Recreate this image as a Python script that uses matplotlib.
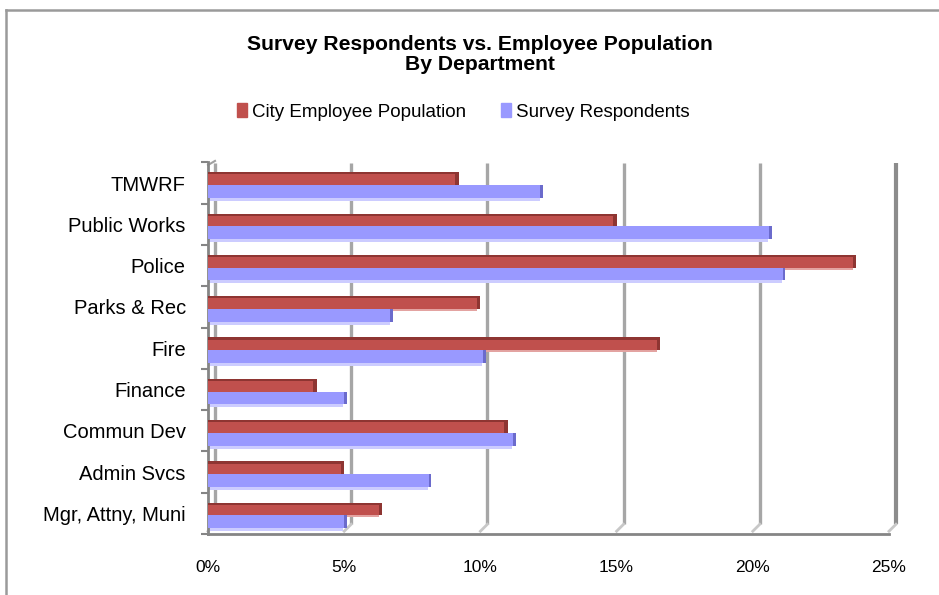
import matplotlib
matplotlib.use("Agg")
import matplotlib.pyplot as plt
import matplotlib.transforms as mtransforms
from matplotlib.patches import Rectangle, Patch

plt.rcParams['font.family'] = ['Liberation Sans', 'DejaVu Sans']

categories = ["Mgr, Attny, Muni", "Admin Svcs", "Commun Dev", "Finance", "Fire",
              "Parks & Rec", "Police", "Public Works", "TMWRF"]
city_population = [6.4, 5.0, 11.0, 4.0, 16.6, 10.0, 23.8, 15.0, 9.2]
survey_respondents = [5.1, 8.2, 11.3, 5.1, 10.2, 6.8, 21.2, 20.7, 12.3]
x_ticks = [0, 5, 10, 15, 20, 25]
x_tick_labels = ["0%", "5%", "10%", "15%", "20%", "25%"]
series_names = ["City Employee Population", "Survey Respondents"]
title_lines = ["Survey Respondents vs. Employee Population", "By Department"]

RED, RED_DARK, RED_LIGHT = "#C0504D", "#8E3532", "#E3A3A1"
BLUE, BLUE_DARK, BLUE_LIGHT = "#9999FF", "#6B6BCC", "#CCCCFF"
GRID = "#A6A6A6"

W, H = 939, 595
fig = plt.figure(figsize=(W / 100, H / 100), dpi=100)

# outer chart border (cropped at right/bottom)
fig.add_artist(plt.Line2D([6 / W, 6 / W], [0, 1 - 10 / H], color="#9A9A9A", lw=1.8,
                          transform=fig.transFigure))
fig.add_artist(plt.Line2D([6 / W, 1], [1 - 10 / H, 1 - 10 / H], color="#9A9A9A", lw=1.8,
                          transform=fig.transFigure))

left_px, right_px, bot_px, top_px = 208, 889, 534, 162
ax = fig.add_axes([left_px / W, 1 - bot_px / H, (right_px - left_px) / W, (bot_px - top_px) / H])
ax.set_xlim(0, 25)
pitch = 41.6
y0 = -(bot_px - 516) / pitch
y1 = (516 - top_px) / pitch
ax.set_ylim(y0, y1)

for s in ["top", "right"]:
    ax.spines[s].set_visible(False)
for s in ["left", "bottom"]:
    ax.spines[s].set_color("#858585")
    ax.spines[s].set_linewidth(2)

back = mtransforms.offset_copy(ax.transData, fig=fig, x=7, y=7, units="dots")
ytop_back = (516 - 170) / pitch

# gridlines on the back wall with a small slant on the floor
for v in x_ticks:
    lw = 3 if v == 25 else 2.4
    col = "#8C8C8C" if v == 25 else GRID
    ax.plot([v, v], [y0, ytop_back], transform=back, color=col, lw=lw, zorder=1,
            clip_on=False, solid_capstyle="butt")
    ax.plot([v, v + 7 / 27.24], [y0, y0 + 7 / pitch], color="#C8C8C8", lw=2, zorder=1,
            clip_on=False)
# left wall back edge top slant
ax.plot([0, 7 / 27.24], [ytop_back + 7 / pitch - 0.05, ytop_back + 7 / pitch + 0.05],
        color="#A0A0A0", lw=1.5, clip_on=False)

h = 0.31
dx = 3.5 / 27.24
dy_strip = 2.2 / pitch
for i, (rv, bv) in enumerate(zip(city_population, survey_respondents)):
    # red bar (upper)
    rc = i + 0.105
    ax.add_patch(Rectangle((0, rc - h / 2 - 0.05), rv - dx, 0.05, color=RED_LIGHT, zorder=2, lw=0))
    ax.add_patch(Rectangle((0, rc - h / 2), rv, h, color=RED, zorder=3, lw=0))
    ax.add_patch(Rectangle((0, rc + h / 2 - dy_strip), rv, dy_strip, color=RED_DARK, zorder=4, lw=0))
    ax.add_patch(Rectangle((rv - dx, rc - h / 2), dx, h, color=RED_DARK, zorder=4, lw=0))
    # blue bar (lower)
    bc = i - 0.205
    ax.add_patch(Rectangle((0, bc - h / 2 - 0.07), bv - dx, 0.07, color=BLUE_LIGHT, zorder=2, lw=0))
    ax.add_patch(Rectangle((0, bc - h / 2), bv, h, color=BLUE, zorder=3, lw=0))
    ax.add_patch(Rectangle((bv - dx * 0.8, bc - h / 2), dx * 0.8, h, color=BLUE_DARK, zorder=4, lw=0))

ax.set_yticks(range(len(categories)))
ax.set_yticklabels(categories, fontsize=14.5)
ax.set_yticks([i - 0.5 for i in range(len(categories) + 1)], minor=True)
ax.tick_params(axis="y", which="major", length=0, pad=16)
ax.tick_params(axis="y", which="minor", length=5, width=1.5, color="#858585")
ax.set_xticks(x_ticks)
ax.set_xticklabels(x_tick_labels, fontsize=12.5)
ax.tick_params(axis="x", length=0, pad=19)

fig.text(480 / W, 1 - 45 / H, title_lines[0], ha="center", va="center", fontsize=15.2,
         fontweight="bold")
fig.text(480 / W, 1 - 64 / H, title_lines[1], ha="center", va="center", fontsize=15.2,
         fontweight="bold")

# legend
handles = [Patch(color=RED), Patch(color=BLUE)]
fig.legend(handles, series_names, loc="center", bbox_to_anchor=(463 / W, 1 - 112 / H),
           ncol=2, frameon=False, fontsize=13.5, handlelength=0.55, handleheight=0.7,
           handletextpad=0.25, columnspacing=1.85)

fig.savefig("out.png", dpi=100)
